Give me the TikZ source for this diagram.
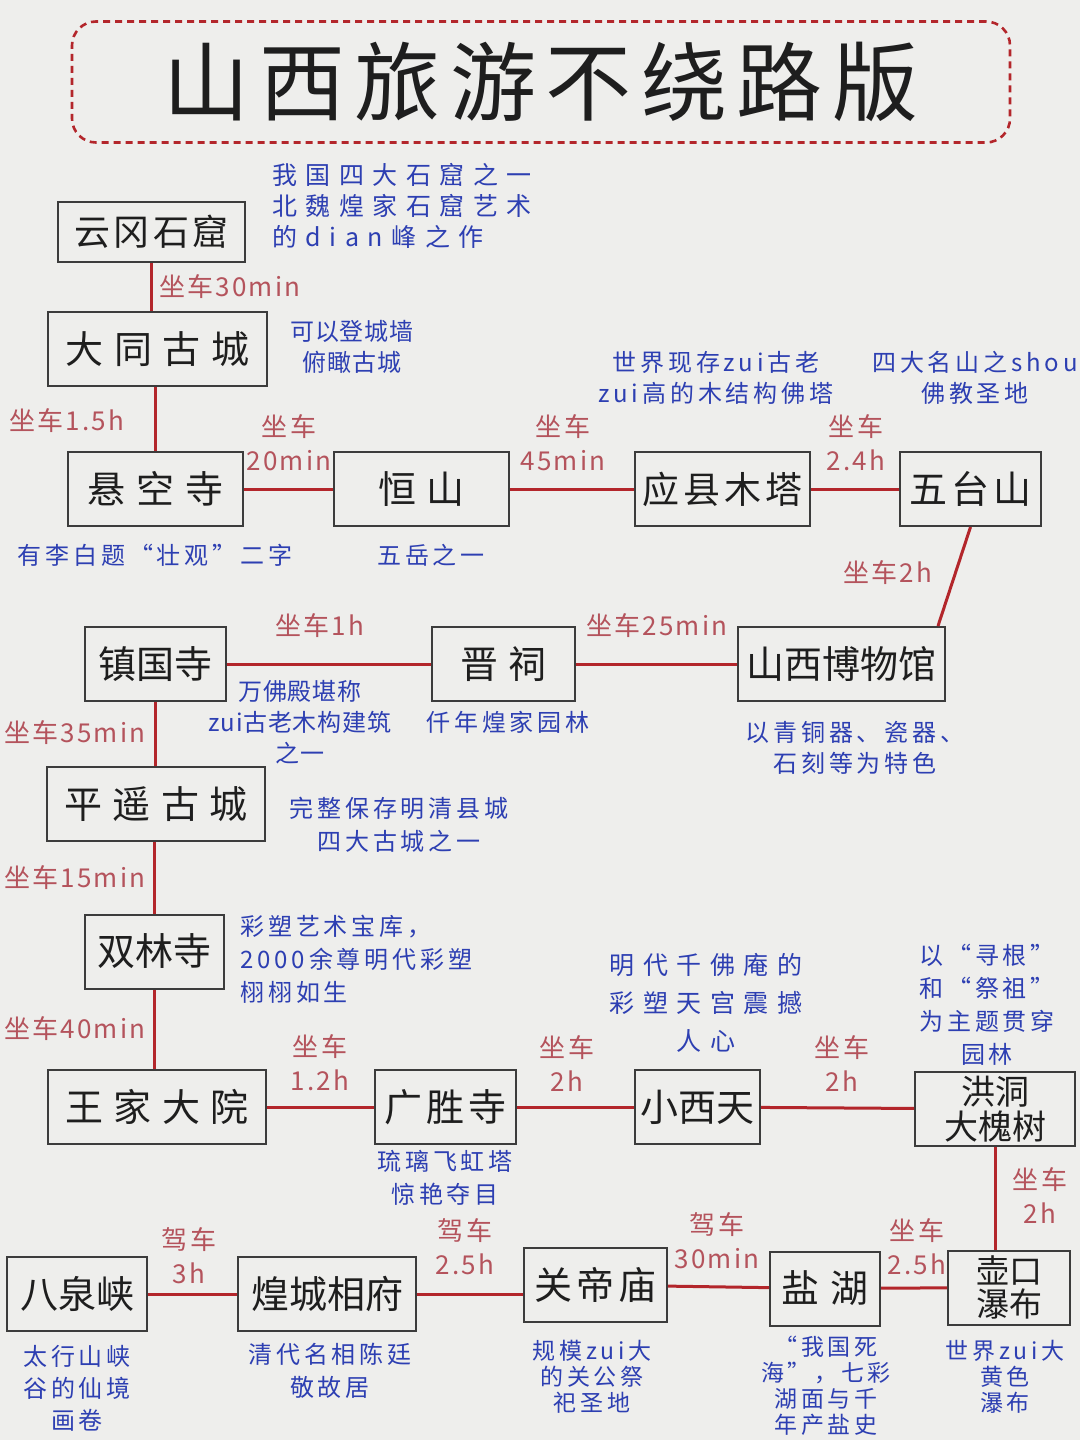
\documentclass[tikz,border=0pt]{standalone}
\usepackage{fontspec}
\usetikzlibrary{calc}
\newfontfamily\cjk{Noto Sans CJK SC}
\newfontfamily\cjkmid[LetterSpace=10]{Noto Sans CJK SC}
\newfontfamily\cjkwide[LetterSpace=28]{Noto Sans CJK SC}
\newfontfamily\cjktitle[LetterSpace=11]{Noto Sans CJK SC}
\newfontfamily\cjkride[LetterSpace=8]{Noto Sans CJK SC}
\newfontfamily\cjknote[LetterSpace=16]{Noto Sans CJK SC}
\newfontfamily\cjknotewide[LetterSpace=34]{Noto Sans CJK SC}
\newfontfamily\cjknotetight[LetterSpace=3]{Noto Sans CJK SC}

\definecolor{paper}{HTML}{EEEEEC}
\definecolor{boxgray}{HTML}{3C3C3C}
\definecolor{ink}{HTML}{1E1E1E}
\definecolor{roadred}{HTML}{B3262B}
\definecolor{ridered}{HTML}{B4535C}
\definecolor{noteblue}{HTML}{2D3FB2}

\tikzset{
  spot/.style={draw=boxgray, line width=1pt, inner sep=0pt, minimum height=37pt,
    text=ink, font=\fontsize{19}{21}\selectfont\cjk},
  widespot/.style={spot, font=\fontsize{19}{21}\selectfont\cjkwide},
  midspot/.style={spot, font=\fontsize{19}{21}\selectfont\cjkmid},
  road/.style={draw=roadred, line width=1.5pt},
  ride/.style={text=ridered, align=center, inner sep=0pt,
    font=\fontsize{13}{17}\selectfont\cjkride},
  note/.style={text=noteblue, align=center, inner sep=0pt,
    font=\fontsize{12}{15.5}\selectfont\cjknote},
  notewide/.style={note, font=\fontsize{12.5}{15.5}\selectfont\cjknotewide},
  notetight/.style={note, font=\fontsize{12}{15.5}\selectfont\cjknotetight},
}

\begin{document}
\begin{tikzpicture}[x=0.5pt, y=-0.5pt]
        \useasboundingbox (0,0) rectangle (1080,1440);
        \fill[paper] (0,0) rectangle (1080,1440);

        % Title
        \node[draw=roadred, line width=1.3pt, dash pattern=on 3.5pt off 2.5pt,
          rounded corners=12pt, minimum width=469pt, minimum height=60.5pt, text=ink,
          font=\fontsize{43}{48}\selectfont\cjktitle] (title) at (541,82) {山西旅游不绕路版};

        % Row 1: Datong to Wutai
        \node[midspot, minimum width=93.5pt, minimum height=30pt, font=\fontsize{18}{20}\selectfont\cjkmid]
          (yungang) at (151.5,232) {云冈石窟};
        \node[widespot, minimum width=109.5pt] (datong) at (157.5,349) {大同古城};
        \node[widespot, minimum width=87.5pt] (xuankong) at (155.5,489) {悬空寺};
        \node[widespot, minimum width=87.5pt] (hengshan) at (421.5,489) {恒山};
        \node[midspot, minimum width=87.5pt, font=\fontsize{18.5}{21}\selectfont\cjkmid]
          (yingxian) at (722.5,489) {应县木塔};
        \node[midspot, minimum width=70.5pt] (wutai) at (970.5,489) {五台山};

        % Row 2: Taiyuan
        \node[spot, minimum width=103.5pt] (museum) at (841.5,664) {山西博物馆};
        \node[widespot, minimum width=71.5pt] (jinci) at (503.5,664) {晋祠};
        \node[spot, minimum width=70.5pt] (zhenguo) at (155.5,664) {镇国寺};

        % Column: Pingyao to Wangjia
        \node[widespot, minimum width=109pt] (pingyao) at (156,804) {平遥古城};
        \node[spot, minimum width=69.5pt] (shuanglin) at (154.5,951.5) {双林寺};
        \node[widespot, minimum width=109pt] (wangjia) at (157,1107) {王家大院};

        % Row 3: Linfen
        \node[midspot, minimum width=70.5pt] (guangsheng) at (445.5,1107) {广胜寺};
        \node[spot, minimum width=62.5pt] (xiaoxitian) at (697.5,1107) {小西天};
        \node[spot, minimum width=80pt, align=center, font=\fontsize{17}{17.5}\selectfont\cjk]
          (hongdong) at (995,1109) {洪洞\\大槐树};

        % Row 4: south
        \node[spot, minimum width=61pt, align=center, font=\fontsize{16.5}{16.5}\selectfont\cjk]
          (hukou) at (1009,1287.5) {壶口\\瀑布};
        \node[widespot, minimum width=55pt] (yanhu) at (825,1288.5) {盐湖};
        \node[midspot, minimum width=71.5pt] (guandi) at (595.5,1285) {关帝庙};
        \node[spot, minimum width=89pt] (huangcheng) at (327,1294) {煌城相府};
        \node[spot, minimum width=70pt] (baquan) at (77,1294) {八泉峡};

        % Roads
        \draw[road] (yungang.south) -- (yungang.south |- datong.north);
        \draw[road] (xuankong.north |- datong.south) -- (xuankong.north);
        \draw[road] (xuankong) -- (hengshan);
        \draw[road] (hengshan) -- (yingxian);
        \draw[road] (yingxian) -- (wutai);
        \draw[road] (wutai.south) -- ($(museum.north east)+(-8,0)$);
        \draw[road] (museum) -- (jinci);
        \draw[road] (jinci) -- (zhenguo);
        \draw[road] (zhenguo.south) -- (zhenguo.south |- pingyao.north);
        \draw[road] (shuanglin.north |- pingyao.south) -- (shuanglin.north);
        \draw[road] (shuanglin.south) -- (shuanglin.south |- wangjia.north);
        \draw[road] (wangjia) -- (guangsheng);
        \draw[road] (guangsheng) -- (xiaoxitian);
        \draw[road] (xiaoxitian) -- (hongdong);
        \draw[road] (hongdong.south) -- (hongdong.south |- hukou.north);
        \draw[road] (hukou) -- (yanhu);
        \draw[road] (yanhu) -- (guandi);
        \draw[road] (huangcheng.east) -- (huangcheng.east -| guandi.west);
        \draw[road] (baquan) -- (huangcheng);

        % Travel times
        \node[ride] (t1) at (230,287) {坐车30min};
        \node[ride] (t2) at (67,421) {坐车1.5h};
        \node[ride] (t3) at (289,443) {坐车\\20min};
        \node[ride] (t4) at (563,443) {坐车\\45min};
        \node[ride] (t5) at (856,443) {坐车\\2.4h};
        \node[ride] (t6) at (888,573) {坐车2h};
        \node[ride] (t7) at (320,626) {坐车1h};
        \node[ride] (t8) at (657,626) {坐车25min};
        \node[ride] (t9) at (75,733) {坐车35min};
        \node[ride] (t10) at (75,878) {坐车15min};
        \node[ride] (t11) at (75,1029) {坐车40min};
        \node[ride] (t12) at (320,1063) {坐车\\1.2h};
        \node[ride] (t13) at (567,1063) {坐车\\2h};
        \node[ride] (t14) at (842,1063) {坐车\\2h};
        \node[ride] (t15) at (1040,1195) {坐车\\2h};
        \node[ride] (t16) at (189,1256) {驾车\\3h};
        \node[ride] (t17) at (465,1247) {驾车\\2.5h};
        \node[ride] (t18) at (717,1241) {驾车\\30min};
        \node[ride] (t19) at (917,1247) {坐车\\2.5h};

        % Notes
        \node[notewide, align=left, anchor=north west] (n1) at (272,163)
          {我国四大石窟之一\\北魏煌家石窟艺术\\的dian峰之作};
        \node[notetight] (n2) at (352,347) {可以登城墙\\俯瞰古城};
        \node[note] (n3) at (716,378) {世界现存zui古老\\zui高的木结构佛塔};
        \node[note] (n4) at (975,378) {四大名山之shou\\佛教圣地};
        \node[note] (n5) at (155,555) {有李白题“壮观”二字};
        \node[note] (n6) at (431,555) {五岳之一};
        \node[notetight] (n7) at (300,722) {万佛殿堪称\\zui古老木构建筑\\之一};
        \node[note] (n8) at (508,722) {仟年煌家园林};
        \node[note] (n9) at (855,748) {以青铜器、瓷器、\\石刻等为特色};
        \node[note, font=\fontsize{12}{16.5}\selectfont\cjknote] (n10) at (399,825)
          {完整保存明清县城\\四大古城之一};
        \node[note, align=left, anchor=north west, font=\fontsize{12}{16.5}\selectfont\cjknote]
          (n11) at (240,915) {彩塑艺术宝库，\\2000余尊明代彩塑\\栩栩如生};
        \node[notewide, font=\fontsize{12.5}{19}\selectfont\cjknotewide] (n12) at (706,1003)
          {明代千佛庵的\\彩塑天宫震撼\\人心};
        \node[note, font=\fontsize{12}{16.5}\selectfont\cjknote] (n13) at (987,1005)
          {以“寻根”\\和“祭祖”\\为主题贯穿\\园林};
        \node[note, font=\fontsize{12}{16.5}\selectfont\cjknote] (n14) at (445,1178)
          {琉璃飞虹塔\\惊艳夺目};
        \node[note, font=\fontsize{12}{16}\selectfont\cjknote] (n15) at (77,1388)
          {太行山峡\\谷的仙境\\画卷};
        \node[note, font=\fontsize{12}{16.5}\selectfont\cjknote] (n16) at (330,1371)
          {清代名相陈廷\\敬故居};
        \node[note, font=\fontsize{11.5}{13}\selectfont\cjknote] (n17) at (592,1377)
          {规模zui大\\的关公祭\\祀圣地};
        \node[note, font=\fontsize{11.5}{13}\selectfont\cjknote] (n18) at (826,1386)
          {“我国死\\海”，七彩\\湖面与千\\年产盐史};
        \node[note, font=\fontsize{11.5}{13}\selectfont\cjknote] (n19) at (1005,1377)
          {世界zui大\\黄色\\瀑布};
\end{tikzpicture}
\end{document}
